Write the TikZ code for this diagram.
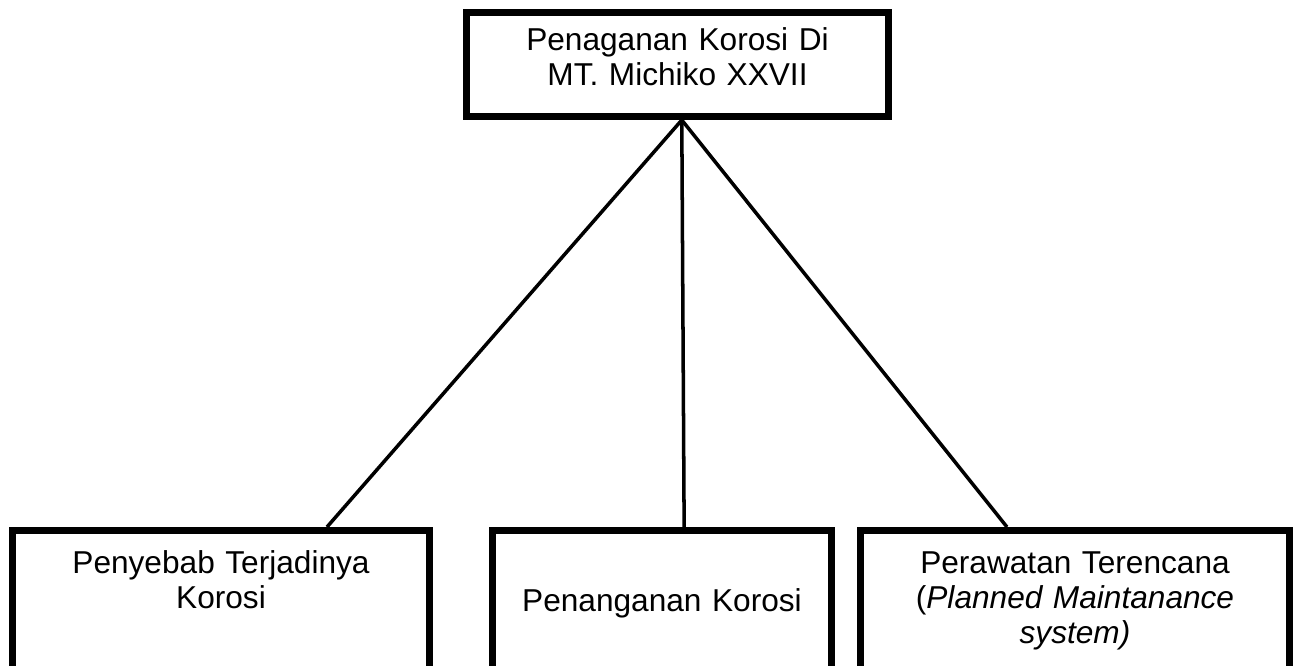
\documentclass[tikz,border=0pt]{standalone}
\usepackage{fontspec}
\setmainfont{Liberation Sans}
\usetikzlibrary{calc}

\begin{document}
\begin{tikzpicture}[
    box/.style={draw, line width=4pt, fill=white, align=center, inner sep=0.2cm,
      anchor=north, font=\fontsize{18}{20}\selectfont},
    leaf/.style={box, text height=0.65cm, text depth=3cm},
    link/.style={line width=2pt}]
        \useasboundingbox (0,0) rectangle (26,-13.32);
        \node[box, text width=8.04cm, text height=0.55cm, text depth=1.13cm] (main) at (13.55,-0.18)
          {Penaganan Korosi Di\\MT. Michiko XXVII};
        \node[leaf, text width=7.94cm] (sebab) at (4.42,-10.54)
          {Penyebab Terjadinya\\Korosi};
        \node[leaf, text width=6.38cm, text height=1.41cm] (tangani) at (13.24,-10.54)
          {Penanganan Korosi};
        \node[leaf, text width=8.18cm] (rawat) at (21.5,-10.54)
          {Perawatan Terencana\\(\textit{Planned Maintanance}\\\textit{system)}};
        \coordinate (fan) at ($(main.south west)!0.51!(main.south east)$);
        \draw[link] (fan) -- ($(sebab.north west)!0.75!(sebab.north east)$);
        \draw[link] (fan) -- ($(tangani.north west)!0.564!(tangani.north east)$);
        \draw[link] (fan) -- ($(rawat.north west)!0.344!(rawat.north east)$);
      \end{tikzpicture}
\end{document}
